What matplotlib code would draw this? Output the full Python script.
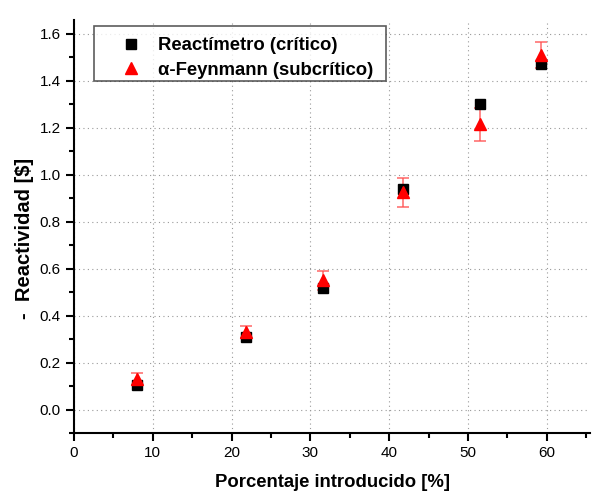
import matplotlib
matplotlib.use("Agg")
import matplotlib.pyplot as plt
from matplotlib.ticker import MultipleLocator
from matplotlib.legend_handler import HandlerLine2D

plt.rcParams['font.family'] = ['Liberation Sans', 'DejaVu Sans']

x_vals = [8.0, 21.8, 31.6, 41.8, 51.5, 59.3]
reactimetro = [0.105, 0.31, 0.52, 0.94, 1.30, 1.47]
feynmann = [0.13, 0.33, 0.55, 0.925, 1.215, 1.51]
feynmann_err = [0.025, 0.025, 0.04, 0.06, 0.07, 0.055]


class ShiftedHandler(HandlerLine2D):
    def __init__(self, frac, **kw):
        super().__init__(**kw)
        self.frac = frac

    def create_artists(self, legend, orig_handle, xdescent, ydescent, width,
                       height, fontsize, trans):
        arts = super().create_artists(legend, orig_handle, xdescent, ydescent,
                                      width, height, fontsize, trans)
        for a in arts:
            n = len(a.get_xdata())
            a.set_xdata([self.frac * width - xdescent] * n)
        return arts


fig = plt.figure(figsize=(5.92, 4.95), dpi=100)
ax = fig.add_axes([0.125, 0.125, 0.872, 0.835])

ax.errorbar(x_vals, feynmann, yerr=feynmann_err, fmt='none', ecolor='#ff5050',
            elinewidth=1.2, capsize=4, capthick=1.2, alpha=0.8, zorder=2)
h1, = ax.plot(x_vals, reactimetro, 's', color='black', markersize=6.5, zorder=3,
              label='Reactímetro (crítico)')
h2, = ax.plot(x_vals, feynmann, '^', color='red', markersize=8.5, zorder=4,
              label='α-Feynmann (subcrítico)  ')

ax.set_xlim(0, 65.5)
ax.set_ylim(-0.1, 1.66)
ax.xaxis.set_major_locator(MultipleLocator(10))
ax.xaxis.set_minor_locator(MultipleLocator(5))
ax.yaxis.set_major_locator(MultipleLocator(0.2))
ax.yaxis.set_minor_locator(MultipleLocator(0.1))
ax.yaxis.set_major_formatter(matplotlib.ticker.FormatStrFormatter('%.1f'))

ax.grid(True, which='major', linestyle=(0, (1, 3)), color='#999999', linewidth=0.8)
ax.set_axisbelow(True)

for s in ['top', 'right']:
    ax.spines[s].set_visible(False)
for s in ['left', 'bottom']:
    ax.spines[s].set_linewidth(1.5)

ax.tick_params(which='major', direction='out', length=6, width=1.5, labelsize=11,
               colors='black')
ax.tick_params(which='minor', direction='out', length=3.5, width=1.5)

ax.set_xlabel('Porcentaje introducido [%]', fontsize=13.3, fontweight='bold', labelpad=10)
ax.set_ylabel('-  Reactividad [$]', fontsize=14.5, fontweight='bold')
ax.yaxis.set_label_coords(-0.078, 0.472)

hmap = {h1: ShiftedHandler(0.648), h2: ShiftedHandler(0.648)}
leg = ax.legend(handles=[h1, h2], handler_map=hmap,
                loc='upper left', bbox_to_anchor=(0.0393, 0.9855), frameon=True,
                fancybox=False, edgecolor='#333333',
                prop={'weight': 'bold', 'size': 13.3}, handletextpad=0.45,
                borderpad=0.146, handlelength=2.84, labelspacing=0.41,
                borderaxespad=0.0, title=' ', title_fontsize=0.1)
leg.get_frame().set_linewidth(1.2)

fig.savefig('out.png', dpi=100)
